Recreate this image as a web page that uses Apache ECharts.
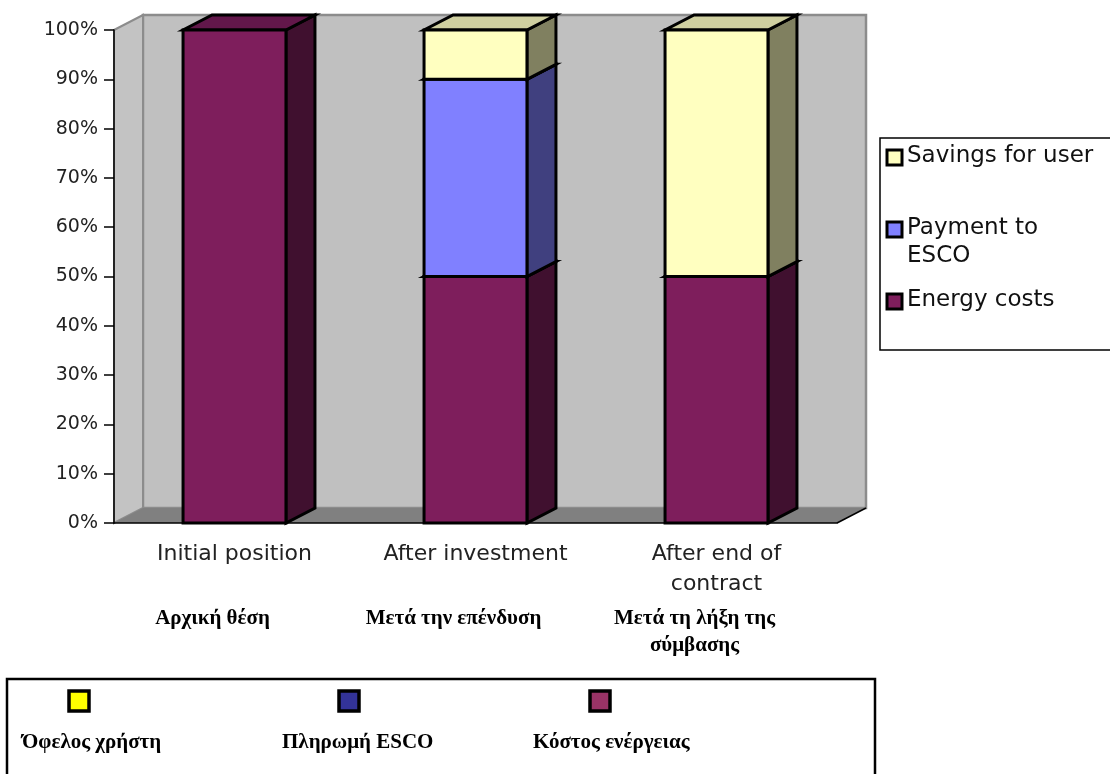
<!DOCTYPE html>
<html><head><meta charset="utf-8">
<script src="https://cdn.jsdelivr.net/npm/echarts/dist/echarts.min.js"></script>
<style>html,body{margin:0;padding:0;background:#fff}#c{width:1110px;height:774px}</style>
</head><body><div id="c"></div>
<script>
// ---- data ----
const categories = ['Initial position', 'After investment', 'After end of\ncontract'];
const greekCategories = ['Αρχική θέση', 'Μετά την επένδυση', 'Μετά τη λήξη της\nσύμβασης'];
const seriesNames = ['Energy costs', 'Payment to ESCO', 'Savings for user'];
const energyCosts = [100, 50, 50];
const paymentToEsco = [0, 40, 0];
const savingsForUser = [0, 10, 50];
const legendNames = ['Savings for user', 'Payment to\nESCO', 'Energy costs'];
const greekLegendNames = ['Όφελος χρήστη', 'Πληρωμή ESCO', 'Κόστος ενέργειας'];
const yMin = 0, yMax = 100, yStep = 10;

// ---- styles ----
const DX = 29, DY = -15;
const barStyles = [
  {front: '#7e1e5c', side: '#40102f', top: '#62174a'},
  {front: '#8080ff', side: '#40407f', top: '#6060c0'},
  {front: '#ffffc0', side: '#808060', top: '#cfcfa0'}
];
const legendColors = ['#ffffc0', '#8080ff', '#7e1e5c'];
const greekLegendColors = ['#ffff00', '#333399', '#993366'];
const SANS = 'DejaVu Sans';
const SERIF = 'Liberation Serif';

const stacks = [energyCosts, paymentToEsco, savingsForUser];
function stackData(k) {
  return categories.map((c, i) => {
    let base = 0;
    for (let j = 0; j < k; j++) base += stacks[j][i];
    return [i, base, stacks[k][i]];
  });
}

function barRender(st) {
  return function (params, api) {
    const i = api.value(0), base = api.value(1), v = api.value(2);
    if (!v) return null;
    const band = api.size([1, 0])[0];
    const w = band * 0.427;
    const cx = api.coord([i, 0])[0];
    const yb = api.coord([i, base])[1];
    const yt = api.coord([i, base + v])[1];
    const x0 = cx - w / 2, x1 = cx + w / 2;
    const ls = {stroke: '#000', lineWidth: 3, lineJoin: 'miter'};
    return {type: 'group', children: [
      {type: 'polygon', shape: {points: [[x1, yb], [x1, yt], [x1 + DX, yt + DY], [x1 + DX, yb + DY]]}, style: Object.assign({fill: st.side}, ls)},
      {type: 'polygon', shape: {points: [[x0, yt], [x1, yt], [x1 + DX, yt + DY], [x0 + DX, yt + DY]]}, style: Object.assign({fill: st.top}, ls)},
      {type: 'rect', shape: {x: x0, y: yt, width: w, height: yb - yt}, style: Object.assign({fill: st.front}, ls)}
    ]};
  };
}

function frameRender(params, api) {
  const cs = params.coordSys;
  const x = cs.x, y = cs.y, w = cs.width, h = cs.height;
  return {type: 'group', children: [
    {type: 'polygon', shape: {points: [[x + DX, y + DY], [x + w + DX, y + DY], [x + w + DX, y + h + DY], [x + DX, y + h + DY]]},
      style: {fill: '#c0c0c0', stroke: '#8c8c8c', lineWidth: 2.5}},
    {type: 'polygon', shape: {points: [[x, y], [x + DX, y + DY], [x + DX, y + h + DY], [x, y + h]]},
      style: {fill: '#c3c3c3', stroke: '#8c8c8c', lineWidth: 2}},
    {type: 'polygon', shape: {points: [[x, y + h], [x + w, y + h], [x + w + DX, y + h + DY], [x + DX, y + h + DY]]},
      style: {fill: '#808080'}},
    {type: 'line', shape: {x1: x + w, y1: y + h, x2: x + w + DX, y2: y + h + DY}, style: {stroke: '#000', lineWidth: 1.5}}
  ]};
}

const chart = echarts.init(document.getElementById('c'), null, {renderer: 'canvas'});
const series = [{
  type: 'custom', name: 'frame', z: 1, silent: true, data: [[0]], renderItem: frameRender, clip: false
}];
seriesNames.forEach((n, k) => {
  series.push({type: 'custom', name: n, z: 2 + k, data: stackData(k), renderItem: barRender(barStyles[k]), clip: false,
    encode: {x: 0, y: [1, 2]}});
});

chart.setOption({
  animation: false,
  backgroundColor: '#fff',
  grid: {left: 114, top: 30, width: 723, height: 493, containLabel: false},
  xAxis: {
    type: 'category', data: categories, z: 10,
    axisLine: {lineStyle: {color: '#000', width: 1.5}},
    axisTick: {length: 10, lineStyle: {color: '#000', width: 1.5}},
    axisLabel: {fontFamily: SANS, fontSize: 22, color: '#222', margin: 16, lineHeight: 30}
  },
  yAxis: {
    type: 'value', min: yMin, max: yMax, interval: yStep, z: 10,
    splitLine: {show: false},
    axisLine: {show: true, lineStyle: {color: '#000', width: 1.5}},
    axisTick: {show: true, length: 10, lineStyle: {color: '#000', width: 1.5}},
    axisLabel: {formatter: '{value}%', fontFamily: SANS, fontSize: 19, color: '#222', margin: 16}
  },
  series: series
});

// ---- text annotations and legends ----
const graphics = [];
greekCategories.forEach((g, i) => {
  const p = chart.convertToPixel({gridIndex: 0}, [i, 0]);
  graphics.push({type: 'text', x: p[0] - 22, y: p[1] + 82, z: 20,
    style: {text: g, fill: '#000', font: 'bold 21px "' + SERIF + '"', textAlign: 'center', textVerticalAlign: 'top', lineHeight: 27}});
});
// right legend
graphics.push({type: 'rect', shape: {x: 880, y: 138, width: 260, height: 212}, style: {fill: '#fff', stroke: '#000', lineWidth: 1.5}, z: 20});
const legendTops = [150, 222, 294];
legendNames.forEach((n, i) => {
  graphics.push({type: 'rect', shape: {x: 887, y: legendTops[i], width: 15, height: 15}, style: {fill: legendColors[i], stroke: '#000', lineWidth: 3}, z: 21});
  graphics.push({type: 'text', x: 907, y: legendTops[i] - 8, z: 21,
    style: {text: n, fill: '#111', font: '23px "' + SANS + '"', textVerticalAlign: 'top', lineHeight: 28}});
});
// bottom Greek legend
graphics.push({type: 'rect', shape: {x: 7, y: 679, width: 868, height: 130}, style: {fill: 'none', stroke: '#000', lineWidth: 2.5}, z: 20});
const gSqX = [69, 339, 590], gTxtX = [22, 282, 533];
greekLegendNames.forEach((n, i) => {
  graphics.push({type: 'rect', shape: {x: gSqX[i], y: 691, width: 20, height: 20}, style: {fill: greekLegendColors[i], stroke: '#000', lineWidth: 3.5}, z: 21});
  graphics.push({type: 'text', x: gTxtX[i], y: 743, z: 21,
    style: {text: n, fill: '#000', font: 'bold 21px "' + SERIF + '"', textVerticalAlign: 'middle'}});
});
chart.setOption({graphic: graphics});
</script>
</body></html>
